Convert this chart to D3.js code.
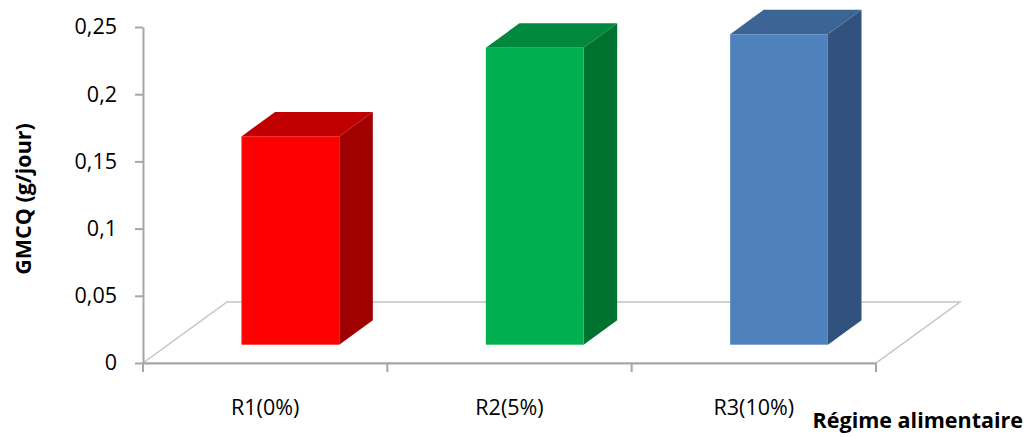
<!DOCTYPE html>
<html>
<head>
<meta charset="utf-8">
<script src="https://cdn.jsdelivr.net/npm/d3@7"></script>
<style>
  html, body { margin: 0; padding: 0; background: #fff; }
  svg { display: block; font-family: "Open Sans", "Liberation Sans", sans-serif; }
</style>
</head>
<body>
<svg id="chart" width="1026" height="437"></svg>
<script>
const categories = ["R1(0%)", "R2(5%)", "R3(10%)"];
const values = [0.155, 0.221, 0.231];
const yTicks = [0, 0.05, 0.1, 0.15, 0.2, 0.25];
const frontColors = ["#FF0000", "#00B050", "#4F81BD"];
const topColors = ["#C00000", "#00893E", "#3C6596"];
const sideColors = ["#A00000", "#00722F", "#30527D"];
const yTitle = "GMCQ (g/jour)";
const xTitle = "Régime alimentaire";

(function () {
const svg = d3.select("#chart");

const pLeft = 143, pRight = 876, pBottom = 363, pTop = 27;
const depthX = 84, depthY = -61;   // floor depth offset
const t0 = 0.3, t1 = 0.7;          // bar depth position within floor

const x = d3.scaleBand().domain(categories).range([pLeft, pRight]).padding(0);
const y = d3.scaleLinear().domain([0, 0.25]).range([pBottom, pTop]);
const fr = d3.formatLocale({decimal: ",", thousands: " ", grouping: [3], currency: ["", "€"]});
const fmt = fr.format(".2~f");

// floor
const floorPts = [
  [pLeft, pBottom], [pLeft + depthX, pBottom + depthY],
  [pRight + depthX, pBottom + depthY], [pRight, pBottom]
];
svg.append("polygon")
  .attr("points", floorPts.map(p => p.join(",")).join(" "))
  .attr("fill", "none")
  .attr("stroke", "#C4C4C4")
  .attr("stroke-width", 1.5);

// x axis front line + ticks
const xAxis = d3.axisBottom(x).tickSize(0).tickFormat("");
const gx = svg.append("g").attr("transform", `translate(0,${pBottom})`).call(xAxis);
gx.select(".domain").attr("stroke", "#A6A6A6").attr("stroke-width", 2);
const bounds = categories.map(c => x(c)).concat([x(categories[categories.length - 1]) + x.bandwidth()]);
svg.append("g").selectAll("line").data(bounds).join("line")
  .attr("x1", d => d).attr("x2", d => d)
  .attr("y1", pBottom).attr("y2", pBottom + 9)
  .attr("stroke", "#A6A6A6").attr("stroke-width", 2);

// x labels
svg.append("g").selectAll("text").data(categories).join("text")
  .attr("x", d => x(d) + x.bandwidth() / 2)
  .attr("y", 415)
  .attr("text-anchor", "middle")
  .attr("font-size", 21.5)
  .attr("fill", "#000")
  .text(d => d);

// y axis
const yAxis = d3.axisLeft(y).tickValues(yTicks).tickFormat(fmt).tickSizeInner(8).tickSizeOuter(0).tickPadding(18);
const gy = svg.append("g").attr("transform", `translate(${pLeft},0)`).call(yAxis);
gy.select(".domain").attr("stroke", "#A6A6A6").attr("stroke-width", 2);
gy.selectAll(".tick line").attr("stroke", "#A6A6A6").attr("stroke-width", 2);
gy.selectAll(".tick text").attr("font-size", 21.5).attr("fill", "#000")
  .attr("font-family", "'Open Sans', sans-serif");

// bars
const bw = x.bandwidth() * 0.4;
const bars = svg.append("g");
categories.forEach((c, i) => {
  const v = values[i];
  const fx0 = x(c) + x.bandwidth() / 2 - bw / 2 + t0 * depthX;
  const fx1 = fx0 + bw;
  const fyB = y(0) + t0 * depthY;
  const fyT = y(v) + t0 * depthY;
  const dX = (t1 - t0) * depthX, dY = (t1 - t0) * depthY;
  const g = bars.append("g");
  g.append("polygon")
    .attr("points", [[fx1, fyB], [fx1 + dX, fyB + dY], [fx1 + dX, fyT + dY], [fx1, fyT]].map(p => p.join(",")).join(" "))
    .attr("fill", sideColors[i]);
  g.append("polygon")
    .attr("points", [[fx0, fyT], [fx0 + dX, fyT + dY], [fx1 + dX, fyT + dY], [fx1, fyT]].map(p => p.join(",")).join(" "))
    .attr("fill", topColors[i]);
  g.append("rect")
    .attr("x", fx0).attr("y", fyT)
    .attr("width", bw).attr("height", fyB - fyT)
    .attr("fill", frontColors[i]);
});

// titles
svg.append("text")
  .attr("transform", `translate(31,199) rotate(-90)`)
  .attr("text-anchor", "middle")
  .attr("font-size", 21.5)
  .attr("font-weight", "bold")
  .attr("fill", "#000")
  .text(yTitle);

svg.append("text")
  .attr("x", 1023).attr("y", 428)
  .attr("text-anchor", "end")
  .attr("font-size", 21.5)
  .attr("font-weight", "bold")
  .attr("fill", "#000")
  .text(xTitle);
})();
</script>
</body>
</html>
